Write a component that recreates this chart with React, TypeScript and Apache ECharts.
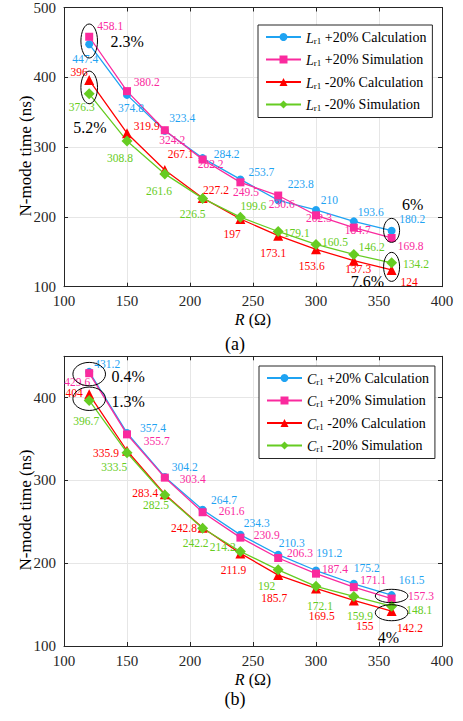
import React, { useEffect, useRef } from "react";
import * as echarts from "echarts";

const R = [120, 150, 180, 210, 240, 270, 300, 330, 360];
const xTicks = [100, 150, 200, 250, 300, 350, 400];

const lPlusCalc = [447.4, 374.8, 323.4, 284.2, 253.7, 223.8, 210, 193.6, 180.2];
const lPlusSim = [458.1, 380.2, 324.2, 282.2, 249.5, 230.6, 202.3, 184.7, 169.8];
const lMinusCalc = [396, 319.9, 267.1, 227.2, 197, 173.1, 153.6, 137.3, 124];
const lMinusSim = [376.3, 308.8, 261.6, 226.5, 199.6, 179.1, 160.5, 146.2, 134.2];

const cPlusCalc = [431.2, 357.4, 304.2, 264.7, 234.3, 210.3, 191.2, 175.2, 161.5];
const cPlusSim = [429.6, 355.7, 303.4, 261.6, 230.9, 206.3, 187.4, 171.1, 157.3];
const cMinusCalc = [404, 335.9, 283.4, 242.8, 211.9, 185.7, 169.5, 155, 142.2];
const cMinusSim = [396.7, 333.5, 282.5, 242.2, 214.2, 192, 172.1, 159.9, 148.1];

const topNotes = ["2.3%", "5.2%", "6%", "7.6%"];
const bottomNotes = ["0.4%", "1.3%", "4%"];

// label offsets (layout only, px)
const offTopBlue = [[-4, 15], [4, 13], [17.5, -13], [24, -4], [21, -7], [22.5, -16], [13.3, -10], [17, -9], [20.7, -12]];
const offTopPink = [[21, -11], [19.7, -9.4], [7.5, 10], [8, 4.4], [5.6, 10], [3.5, 8.4], [3, 3], [4, 2], [19, 8.4]];
const offTopRed = [[-10, -8], [19.7, -7], [16, -16], [13.4, -8], [-8.4, 15], [-5, 17], [-4.3, 16.7], [4.5, 8], [17.4, 12]];
const offTopGreen = [[-7.5, 13.5], [-7, 17], [-5.8, 17], [-10, 15.6], [13, -11], [18.5, 1.2], [19, -2], [18, -7.5], [24.4, 1.3]];
const offBotBlue = [[18, -8], [26, -5], [20, -9.6], [21.4, -10], [16.3, -11.5], [13.5, -12], [13.3, -18], [13, -15.4], [20, -15]];
const offBotPink = [[-12, 9], [29.7, 6.4], [28, 1], [29, -1.5], [26.3, -2.3], [21.8, -4.7], [19, -4.6], [19.5, -7], [29.4, -3]];
const offBotRed = [[-15, -1], [-21, 2], [-19.5, -1.4], [-18.6, 0], [-7, 16.7], [-4, 23], [5.7, 28], [11, 26], [18.4, 16.6]];
const offBotGreen = [[-3, 20.7], [-12.7, 14], [-8.8, 10.5], [-7, 14.5], [-17.7, -4.7], [-11.5, 16], [4, 19.4], [6.2, 19.3], [27.7, 3.8]];

// annotation placement (data coords) and sizes
const topEllipses = [
  { c: [120, 452], rx: 8.3, ry: 17 },
  { c: [120, 385.5], rx: 8.3, ry: 16.3 },
  { c: [360, 180.7], rx: 8, ry: 12 },
  { c: [360, 128.4], rx: 8, ry: 14.5 },
];
const topNotePos = [[150.2, 451], [120.6, 327.6], [376.7, 217.6], [340.7, 107]];
const botEllipses = [
  { c: [120, 428.5], rx: 16.3, ry: 11.7 },
  { c: [120, 398.7], rx: 16.3, ry: 11.7 },
  { c: [360, 160.4], rx: 16.3, ry: 6.7 },
  { c: [360, 140.2], rx: 16.3, ry: 8 },
];
const botNotePos = [[151, 425.2], [151, 395], [357.4, 110.5]];

const FONT = "Liberation Serif";
const BLUE = "#1fa3f2";
const PINK = "#fa2a9e";
const RED = "#ff0000";
const GREEN = "#66cc22";
const AX = "#262626";

const legendNames: Record<string, string> = {
  "L+c": "{i|L}{s|r1} +20% Calculation",
  "L+s": "{i|L}{s|r1} +20% Simulation",
  "L-c": "{i|L}{s|r1} -20% Calculation",
  "L-s": "{i|L}{s|r1} -20% Simulation",
  "C+c": "{i|C}{s|r1} +20% Calculation",
  "C+s": "{i|C}{s|r1} +20% Simulation",
  "C-c": "{i|C}{s|r1} -20% Calculation",
  "C-s": "{i|C}{s|r1} -20% Simulation",
};

function mkSeries(name: string, vals: number[], offs: number[][], color: string, symbol: string, size: any, gi: number) {
  return {
    name,
    type: "line",
    xAxisIndex: gi,
    yAxisIndex: gi,
    data: R.map((x, i) => ({ value: [x, vals[i]], label: { offset: offs[i] } })),
    symbol,
    symbolSize: size,
    itemStyle: { color },
    lineStyle: { color, width: 1.3 },
    emphasis: { disabled: true },
    label: {
      show: true,
      position: "inside",
      formatter: (p: any) => String(p.value[1]),
      color,
      fontSize: 11.5,
      fontFamily: FONT,
    },
  };
}

function axisX(gi: number, top: boolean) {
  return {
    type: "value",
    gridIndex: gi,
    position: top ? "top" : "bottom",
    min: 100,
    max: 400,
    interval: 50,
    axisLine: { show: true, lineStyle: { color: AX, width: 1 } },
    axisTick: { show: true, inside: true, length: 4, lineStyle: { color: AX } },
    axisLabel: top
      ? { show: false }
      : { show: true, fontSize: 15, fontFamily: FONT, color: AX, margin: 7, formatter: (v: number) => (xTicks.includes(v) ? String(v) : "") },
    splitLine: top ? { show: false } : { show: true, lineStyle: { color: "#e6e6e6", width: 1 } },
  };
}

function axisY(gi: number, right: boolean, max: number) {
  return {
    type: "value",
    gridIndex: gi,
    position: right ? "right" : "left",
    min: 100,
    max,
    interval: 100,
    axisLine: { show: true, lineStyle: { color: AX, width: 1 } },
    axisTick: { show: true, inside: true, length: 4, lineStyle: { color: AX } },
    axisLabel: right
      ? { show: false }
      : { show: true, fontSize: 15, fontFamily: FONT, color: AX, margin: 8, formatter: (v: number) => (v % 100 === 0 ? String(v) : "") },
    splitLine: right ? { show: false } : { show: true, lineStyle: { color: "#e6e6e6", width: 1 } },
  };
}

function mkLegend(names: string[], left: number, top: number) {
  return {
    data: names,
    orient: "vertical",
    left,
    top,
    itemWidth: 35,
    itemHeight: 10,
    itemGap: 7.5,
    padding: [5, 6, 5, 7],
    borderColor: AX,
    borderWidth: 1,
    backgroundColor: "#fff",
    borderRadius: 0,
    formatter: (n: string) => legendNames[n],
    textStyle: {
      fontFamily: FONT,
      fontSize: 14,
      color: "#000",
      rich: {
        i: { fontFamily: FONT, fontSize: 14, fontStyle: "italic", color: "#000", lineHeight: 16, verticalAlign: "bottom" },
        s: { fontFamily: FONT, fontSize: 9, color: "#000", lineHeight: 10, verticalAlign: "bottom" },
      },
    },
  };
}

export default function App() {
  const ref = useRef<HTMLDivElement>(null);
  useEffect(() => {
    if (!ref.current) return;
    const chart = echarts.init(ref.current, undefined, { renderer: "svg" });
    const option: any = {
      animation: false,
      backgroundColor: "#fff",
      textStyle: { fontFamily: FONT },
      grid: [
        { left: 64, top: 5.5, width: 378, height: 281.2, show: false },
        { left: 64, top: 356.3, width: 378, height: 289.7, show: false },
      ],
      xAxis: [axisX(0, false), axisX(1, false), axisX(0, true), axisX(1, true)],
      yAxis: [axisY(0, false, 500), axisY(1, false, 450), axisY(0, true, 500), axisY(1, true, 450)],
      legend: [
        mkLegend(["L+c", "L+s", "L-c", "L-s"], 258, 25),
        mkLegend(["C+c", "C+s", "C-c", "C-s"], 259, 366),
      ],
      series: [
        mkSeries("L+c", lPlusCalc, offTopBlue, BLUE, "circle", 8, 0),
        mkSeries("L+s", lPlusSim, offTopPink, PINK, "rect", 8, 0),
        mkSeries("L-c", lMinusCalc, offTopRed, RED, "triangle", 10, 0),
        mkSeries("L-s", lMinusSim, offTopGreen, GREEN, "diamond", 11, 0),
        mkSeries("C+c", cPlusCalc, offBotBlue, BLUE, "circle", 8, 1),
        mkSeries("C+s", cPlusSim, offBotPink, PINK, "rect", 8, 1),
        mkSeries("C-c", cMinusCalc, offBotRed, RED, "triangle", 10, 1),
        mkSeries("C-s", cMinusSim, offBotGreen, GREEN, "diamond", 11, 1),
      ],
    };
    chart.setOption(option);

    const px = (gi: number, c: number[]) => chart.convertToPixel({ gridIndex: gi } as any, c) as number[];
    const g: any[] = [];
    const addEll = (gi: number, e: any) => {
      const p = px(gi, e.c);
      g.push({ type: "ellipse", shape: { cx: p[0], cy: p[1], rx: e.rx, ry: e.ry }, style: { fill: "none", stroke: "#000", lineWidth: 1 }, z: 100, silent: true });
    };
    const addNote = (gi: number, t: string, c: number[]) => {
      const p = px(gi, c);
      g.push({ type: "text", x: p[0], y: p[1], z: 100, silent: true, style: { text: t, fontSize: 16, fontFamily: FONT, fill: "#000", align: "center", verticalAlign: "middle", textAlign: "center", textVerticalAlign: "middle" } });
    };
    topEllipses.forEach((e) => addEll(0, e));
    botEllipses.forEach((e) => addEll(1, e));
    topNotes.forEach((t, i) => addNote(0, t, topNotePos[i]));
    bottomNotes.forEach((t, i) => addNote(1, t, botNotePos[i]));

    const txt = (text: string, x: number, y: number, size: number, rot = 0, rich?: any) => ({
      type: "text",
      x,
      y,
      rotation: rot,
      silent: true,
      style: { text, fontSize: size, fontFamily: FONT, fill: "#000", align: "center", verticalAlign: "middle", textAlign: "center", textVerticalAlign: "middle", rich },
    });
    const richR = { i: { fontStyle: "italic", fontSize: 16, fontFamily: FONT, fill: "#000" } };
    g.push(txt("N-mode time (ns)", 25, 156, 17, Math.PI / 2));
    g.push(txt("N-mode time (ns)", 25, 510, 17, Math.PI / 2));
    g.push(txt("{i|R} (Ω)", 253, 319, 16, 0, richR));
    g.push(txt("{i|R} (Ω)", 253, 679, 16, 0, richR));
    g.push(txt("(a)", 235, 344, 18));
    g.push(txt("(b)", 235, 699, 18));
    chart.setOption({ graphic: g });

    return () => chart.dispose();
  }, []);
  return <div ref={ref} style={{ position: "absolute", left: 0, top: 0, width: 463, height: 721 }} />;
}
